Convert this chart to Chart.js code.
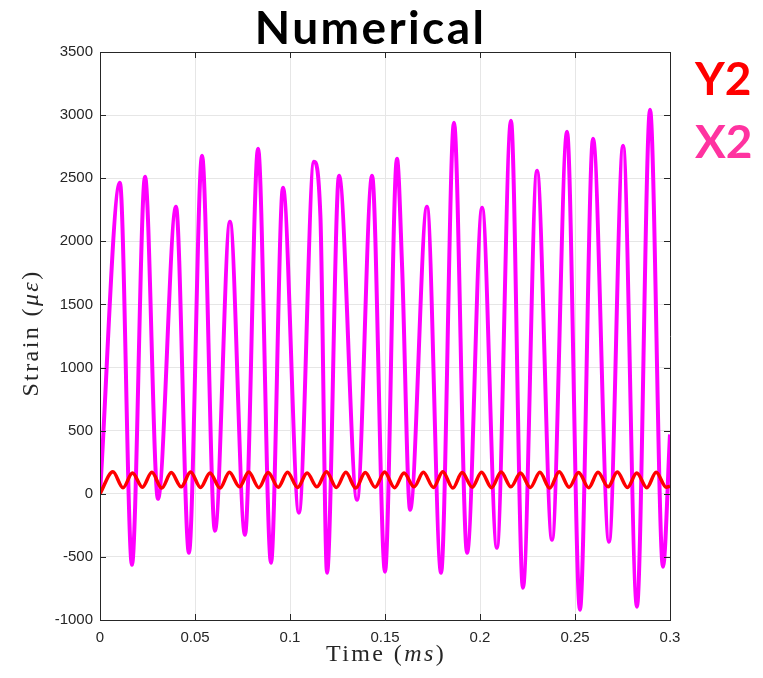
<!DOCTYPE html>
<html>
<head>
<meta charset="utf-8">
<script src="https://cdn.jsdelivr.net/npm/chart.js@4/dist/chart.umd.min.js"></script>
<style>
  html,body{margin:0;padding:0;background:#fff;}
  #wrap{position:relative;width:763px;height:678px;overflow:hidden;}
  canvas{position:absolute;left:0;top:0;}
  .big{position:absolute;font-family:Lato,"Open Sans",sans-serif;font-weight:bold;line-height:1;white-space:nowrap;}
  .ax{position:absolute;font-family:"Liberation Serif","Times New Roman",serif;font-size:24px;line-height:1;white-space:nowrap;color:#262626;letter-spacing:2.4px;}
  .it{font-style:italic;}
</style>
</head>
<body>
<div id="wrap">
  <canvas id="c" width="763" height="678"></canvas>
  <div class="big" id="title" style="left:2px;width:737px;text-align:center;top:4px;font-size:46px;letter-spacing:2.4px;color:#000;">Numerical</div>
  <div class="big" id="y2" style="left:695px;top:55px;font-size:46px;color:#FF0000;">Y2</div>
  <div class="big" id="x2" style="left:695px;top:118px;font-size:46px;color:#FF33A0;">X2</div>
  <div class="ax" id="xt" style="left:236px;width:300px;text-align:center;top:641px;">Time (<span class="it">ms</span>)</div>
  <div class="ax" id="yt" style="left:-120px;width:300px;text-align:center;top:321px;transform:rotate(-90deg);transform-origin:150px 12px;">Strain (<span class="it">με</span>)</div>
</div>
<script>
// ---- data ----
const xTickValues = [0, 0.05, 0.1, 0.15, 0.2, 0.25, 0.3];
const xTickLabels = ["0", "0.05", "0.1", "0.15", "0.2", "0.25", "0.3"];
const yTickValues = [-1000, -500, 0, 500, 1000, 1500, 2000, 2500, 3000, 3500];

// X2 (magenta) - time in ms, strain in micro-strain
const x2Time = [0, 0.0105, 0.0168, 0.0237, 0.0305, 0.0400, 0.0468, 0.0537, 0.0605, 0.0684,
  0.0763, 0.0832, 0.0900, 0.0963, 0.1047, 0.1126, 0.1160, 0.1195, 0.1258, 0.1353, 0.1432,
  0.1500, 0.1563, 0.1590, 0.1632, 0.1721, 0.1795, 0.1863, 0.1932, 0.2011, 0.2089, 0.2163,
  0.2226, 0.2300, 0.2379, 0.2458, 0.2526, 0.2595, 0.2679, 0.2753, 0.2826, 0.2895,
  0.2963, 0.3000];
const x2Strain = [0, 2464, -563, 2512, -40, 2274, -468, 2678, -293, 2155,
  -325, 2734, -547, 2425, -150, 2631, 2200, -626, 2520, -48, 2520,
  -618, 2655, 1800, -127, 2274, -626, 2940, -468, 2266, -428, 2956,
  -745, 2560, -365, 2868, -919, 2813, -380, 2757, -895, 3043,
  -578, 470];

// Y2 (red)
const y2Time = [0, 0.0068, 0.0121, 0.0171, 0.0223, 0.0273, 0.0325, 0.0375, 0.0427, 0.0477,
  0.0529, 0.0579, 0.0632, 0.0681, 0.0734, 0.0783, 0.0836, 0.0885, 0.0938, 0.0987,
  0.1040, 0.1090, 0.1142, 0.1192, 0.1244, 0.1294, 0.1346, 0.1396, 0.1448, 0.1498,
  0.1550, 0.1600, 0.1653, 0.1702, 0.1755, 0.1804, 0.1857, 0.1906, 0.1959, 0.2008,
  0.2061, 0.2111, 0.2163, 0.2213, 0.2265, 0.2315, 0.2367, 0.2417, 0.2469, 0.2519,
  0.2572, 0.2621, 0.2674, 0.2723, 0.2776, 0.2825, 0.2878, 0.2927, 0.2980, 0.3000];
const y2Strain = [0, 175, 48, 165, 52, 170, 45, 168, 55, 172,
  50, 165, 45, 170, 55, 172, 48, 168, 52, 170,
  50, 165, 55, 175, 50, 170, 45, 168, 52, 172,
  48, 165, 55, 170, 50, 175, 45, 168, 52, 170,
  48, 172, 55, 165, 50, 170, 45, 175, 52, 168,
  48, 170, 55, 172, 50, 165, 48, 170, 52, 60];

const toPts = (t, v) => t.map((x, i) => ({x: x, y: v[i]}));

const frame = {
  id: 'frame',
  afterDraw(chart) {
    const {ctx, chartArea: a, scales} = chart;
    ctx.save();
    ctx.strokeStyle = '#262626';
    ctx.lineWidth = 1;
    ctx.beginPath();
    ctx.rect(Math.round(a.left) + 0.5, Math.round(a.top) + 0.5, Math.round(a.right - a.left), Math.round(a.bottom - a.top));
    const L = 6;
    xTickValues.forEach(v => {
      const px = Math.round(scales.x.getPixelForValue(v)) + 0.5;
      ctx.moveTo(px, a.bottom); ctx.lineTo(px, a.bottom - L);
      ctx.moveTo(px, a.top); ctx.lineTo(px, a.top + L);
    });
    yTickValues.forEach(v => {
      const py = Math.round(scales.y.getPixelForValue(v)) + 0.5;
      ctx.moveTo(a.left, py); ctx.lineTo(a.left + L, py);
      ctx.moveTo(a.right, py); ctx.lineTo(a.right - L, py);
    });
    ctx.stroke();
    ctx.restore();
  }
};

new Chart(document.getElementById('c'), {
  type: 'line',
  data: {
    datasets: [
      {label: 'Y2', data: toPts(y2Time, y2Strain), borderColor: '#FF0000', borderWidth: 3.5,
       pointRadius: 0, cubicInterpolationMode: 'monotone', fill: false},
      {label: 'X2', data: toPts(x2Time, x2Strain), borderColor: '#FF00FF', borderWidth: 4,
       pointRadius: 0, cubicInterpolationMode: 'monotone', fill: false}
    ]
  },
  options: {
    responsive: false,
    animation: false,
    devicePixelRatio: 1,
    layout: {padding: {left: 0, right: 93, top: 52, bottom: 0}},
    plugins: {legend: {display: false}, tooltip: {enabled: false}, title: {display: false}},
    scales: {
      x: {
        type: 'linear', min: 0, max: 0.3,
        afterFit(s) { s.height = 58; },
        afterBuildTicks(s) { s.ticks = xTickValues.map(v => ({value: v})); },
        ticks: {
          padding: 9, color: '#262626', maxRotation: 0,
          font: {family: '"Liberation Sans", Arial, sans-serif', size: 15},
          callback: (v) => { const i = xTickValues.findIndex(t => Math.abs(t - v) < 1e-9); return i >= 0 ? xTickLabels[i] : ''; }
        },
        grid: {color: '#e6e6e6', lineWidth: 1, drawTicks: false},
        border: {display: true, color: '#262626', width: 1}
      },
      y: {
        type: 'linear', min: -1000, max: 3500,
        afterFit(s) { s.width = 100; },
        afterBuildTicks(s) { s.ticks = yTickValues.map(v => ({value: v})); },
        ticks: {
          padding: 7, color: '#262626',
          font: {family: '"Liberation Sans", Arial, sans-serif', size: 15},
          callback: (v) => String(v)
        },
        grid: {color: '#e6e6e6', lineWidth: 1, drawTicks: false},
        border: {display: true, color: '#262626', width: 1}
      }
    }
  },
  plugins: [frame]
});
</script>
</body>
</html>
